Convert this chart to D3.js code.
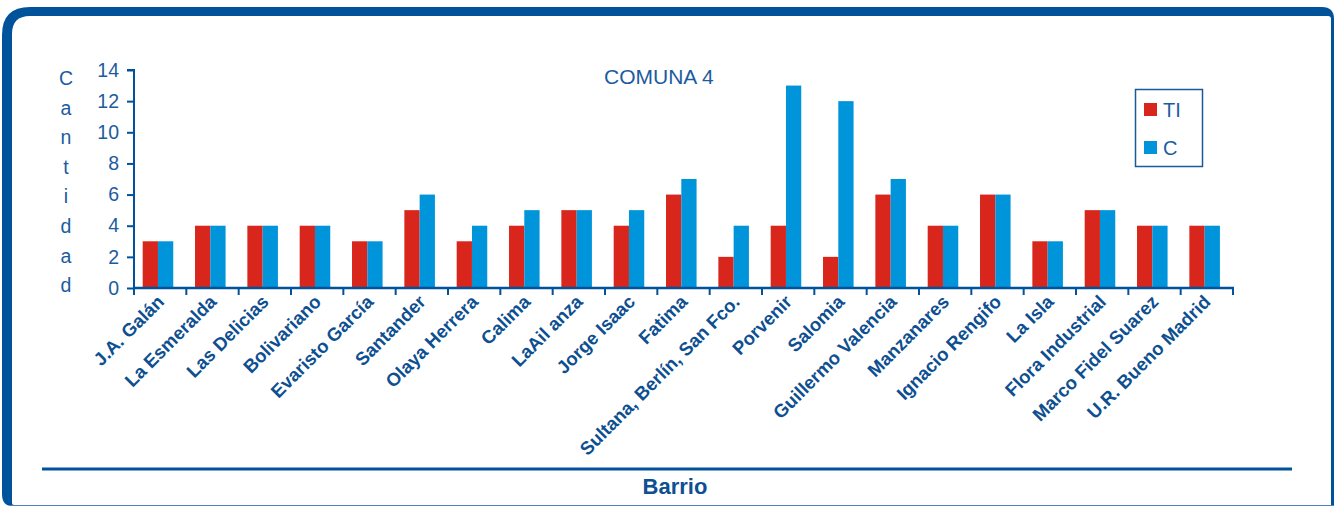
<!DOCTYPE html>
<html><head><meta charset="utf-8">
<script src="https://cdn.jsdelivr.net/npm/d3@7"></script>
<style>html,body{margin:0;padding:0;background:#fff;}svg{display:block;font-family:Arial,"Liberation Sans",sans-serif;}</style>
</head><body>
<svg id="c" width="1335" height="506"></svg>
<script>
const categories = ["J.A. Galán","La Esmeralda","Las Delicias","Bolivariano","Evaristo García","Santander","Olaya Herrera","Calima","LaAil anza","Jorge Isaac","Fatima","Sultana, Berlín, San Fco.","Porvenir","Salomia","Guillermo Valencia","Manzanares","Ignacio Rengifo","La Isla","Flora Industrial","Marco Fidel Suarez","U.R. Bueno Madrid"];
const seriesNames = ["TI","C"];
const valuesTI = [3,4,4,4,3,5,3,4,5,4,6,2,4,2,6,4,6,3,5,4,4];
const valuesC  = [3,4,4,4,3,6,4,5,5,5,7,4,13,12,7,4,6,3,5,4,4];
const yTicks = [0,2,4,6,8,10,12,14];
const colors = ["#D9261C","#0095DA"];
const title = "COMUNA 4";
const yTitle = "Cantidad";
const xTitle = "Barrio";

const svg = d3.select("#c");
const frameBlue = "#00529B";
const textBlue = "#1B5C9E";
const boldBlue = "#0D4F91";

// frame
svg.append("path").attr("fill", frameBlue)
  .attr("d", "M2,35 Q2,7 30,7 L1322,7 Q1334,7 1334,19 L1334,506 L12,506 Q2,506 2,494 Z");
svg.append("path").attr("fill", "#fff")
  .attr("d", "M12,34 Q12,16 30,16 L1328,16 Q1331,16 1331,19 L1331,505 L14,505 Q12,505 12,503 Z");
svg.append("line").attr("x1",10).attr("x2",1334).attr("y1",505.5).attr("y2",505.5)
  .attr("stroke","#4F81BD").attr("stroke-width",1);

const x0 = 134, x1 = 1233, yBase = 288, yTop = 70;
const x = d3.scaleBand().domain(categories).range([x0, x1]).padding(0);
const bw = x.bandwidth();
const xs = d3.scaleBand().domain(seriesNames).range([bw*0.166, bw*0.75]).padding(0);
const y = d3.scaleLinear().domain([0,14]).range([yBase, yTop]);

const data = categories.map((c,i)=>({cat:c, vals:[valuesTI[i], valuesC[i]]}));
const g = svg.append("g");
data.forEach(d=>{
  seriesNames.forEach((s,j)=>{
    g.append("rect")
      .attr("x", x(d.cat)+xs(s))
      .attr("y", y(d.vals[j]))
      .attr("width", xs.bandwidth())
      .attr("height", yBase - y(d.vals[j]))
      .attr("fill", colors[j]);
  });
});

// y axis
const yAxis = svg.append("g").attr("transform",`translate(${x0},0)`)
  .call(d3.axisLeft(y).tickValues(yTicks).tickSize(7).tickPadding(8).tickFormat(d3.format("d")));
yAxis.select(".domain").attr("stroke",frameBlue).attr("stroke-width",2).attr("d",`M-7,${yTop}H0V${yBase}`);
yAxis.selectAll(".tick line").attr("stroke",frameBlue).attr("stroke-width",2);
yAxis.selectAll(".tick text").attr("fill",textBlue).attr("font-size","19.5px").attr("font-family","Arial, 'Liberation Sans', sans-serif");

// x axis with boundary ticks
const xa = svg.append("g");
xa.append("line").attr("x1",x0).attr("x2",x1+1).attr("y1",yBase).attr("y2",yBase).attr("stroke",frameBlue).attr("stroke-width",2.5);
const bounds = categories.map(c=>x(c)).concat([x1]);
xa.selectAll("line.tk").data(bounds).enter().append("line")
  .attr("x1",d=>d).attr("x2",d=>d).attr("y1",yBase).attr("y2",yBase+7)
  .attr("stroke",frameBlue).attr("stroke-width",2);
xa.selectAll("text.lab").data(categories).enter().append("text")
  .attr("transform",d=>`translate(${x(d)+bw/2+5},${yBase+15}) rotate(-45)`)
  .attr("text-anchor","end")
  .attr("fill",boldBlue).attr("font-weight","bold").attr("font-size","18.5px")
  .text(d=>d);

// title
svg.append("text").attr("x",604).attr("y",84).attr("fill",textBlue).attr("font-size","21px").text(title);

// y title stacked letters
yTitle.split("").forEach((ch,i)=>{
  svg.append("text").attr("x",66).attr("y",85+i*29.6).attr("text-anchor","middle")
    .attr("fill",textBlue).attr("font-size","19.5px").text(ch);
});

// legend
const lg = svg.append("g");
lg.append("rect").attr("x",1135.5).attr("y",89.5).attr("width",67).attr("height",77)
  .attr("fill","#fff").attr("stroke","#1A5A9A").attr("stroke-width",1.5);
seriesNames.forEach((s,i)=>{
  lg.append("rect").attr("x",1144).attr("y",103+i*38).attr("width",13).attr("height",13).attr("fill",colors[i]);
  lg.append("text").attr("x",1163).attr("y",117+i*38).attr("fill",textBlue).attr("font-size","20px").text(s);
});

// bottom rule and x title
svg.append("line").attr("x1",42).attr("x2",1292).attr("y1",469).attr("y2",469).attr("stroke",frameBlue).attr("stroke-width",3);
svg.append("text").attr("x",675).attr("y",494).attr("text-anchor","middle").attr("fill",boldBlue)
  .attr("font-weight","bold").attr("font-size","22px").text(xTitle);
</script>
</body></html>
